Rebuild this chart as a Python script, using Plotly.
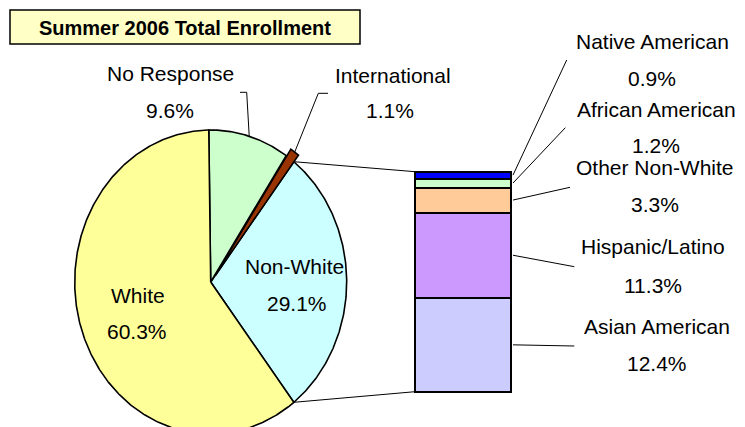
import numpy as np
import plotly.graph_objects as go

# ---------------- data ----------------
pie_labels = ["Non-White", "International", "No Response", "White"]
pie_values = [29.1, 1.1, 9.6, 60.3]
pie_colors = ["#CCFFFF", "#993300", "#CCFFCC", "#FFFF99"]

bar_labels = ["Asian American", "Hispanic/Latino", "Other Non-White",
              "African American", "Native American"]
bar_values = [12.4, 11.3, 3.3, 1.2, 0.9]
bar_colors = ["#CCCCFF", "#CC99FF", "#FFCC99", "#CCFFCC", "#0000FF"]

title_text = "Summer 2006 Total Enrollment"

# ---------------- layout constants (pixels) ----------------
W, H = 745, 427
CX, CY, RX, RY = 210.7, 282.0, 136.0, 152.0
EXPLODE = {"International": 8.0}
BAR_X0, BAR_X1, BAR_TOP, BAR_BOT = 415.0, 511.0, 171.7, 391.7
FONT = "Liberation Sans, Arial, sans-serif"
FS = 21

fig = go.Figure()

total = sum(pie_values)
half = pie_values[0] / total * 180.0
start = -half
slice_geom = {}
for lab, val, col in zip(pie_labels, pie_values, pie_colors):
    span = val / total * 360.0
    a0, a1 = start, start + span
    mid = np.radians((a0 + a1) / 2)
    off = EXPLODE.get(lab, 0.0)
    ox, oy = off * np.cos(mid), -off * np.sin(mid)
    t = np.radians(np.linspace(a0, a1, max(4, int(span * 2))))
    xs = np.concatenate([[CX], CX + RX * np.cos(t), [CX]]) + ox
    ys = np.concatenate([[CY], CY - RY * np.sin(t), [CY]]) + oy
    fig.add_trace(go.Scatter(x=xs, y=ys, mode="lines", fill="toself",
                             fillcolor=col, line=dict(color="black", width=1.6),
                             hoverinfo="skip", showlegend=False,
                             xaxis="x", yaxis="y"))
    slice_geom[lab] = dict(a0=a0, a1=a1, mid=mid, ox=ox, oy=oy)
    start = a1

# ---------------- stacked bar ----------------
bar_total = sum(bar_values)
for lab, val, col in zip(bar_labels, bar_values, bar_colors):
    fig.add_trace(go.Bar(x=[0], y=[val], width=[1.0], marker=dict(
        color=col, line=dict(color="black", width=2)),
        hoverinfo="skip", showlegend=False, xaxis="x2", yaxis="y2"))

padx = 0.1
bw = BAR_X1 - BAR_X0
x2_dom = [(BAR_X0 - bw * padx) / W, (BAR_X1 + bw * padx) / W]
bh = BAR_BOT - BAR_TOP
pady = 0.05
y2_dom = [(H - (BAR_BOT + bh * pady)) / H, (H - (BAR_TOP - bh * pady)) / H]

shapes = []
annotations = []

def line(x0, y0, x1, y1, w=1.0):
    shapes.append(dict(type="line", xref="x", yref="y", x0=x0, y0=y0,
                       x1=x1, y1=y1, line=dict(color="black", width=w)))

def text(x, y, s, size=FS, bold=False):
    annotations.append(dict(x=x, y=y, xref="x", yref="y", text=(f"<b>{s}</b>" if bold else s),
                            showarrow=False, xanchor="center", yanchor="middle",
                            font=dict(family=FONT, size=size, color="black")))

# connectors pie -> bar
nw = slice_geom["Non-White"]
ta, ba = np.radians(nw["a1"]), np.radians(nw["a0"])
line(CX + RX * np.cos(ta), CY - RY * np.sin(ta), BAR_X0, BAR_TOP)
line(CX + RX * np.cos(ba), CY - RY * np.sin(ba), BAR_X0, BAR_BOT)

label_pos = {
    "Native American": ((566.7, 60.0), (652, 41.7), (652, 78.0)),
    "African American": ((565.3, 127.7), (656, 109.0), (656, 145.0)),
    "Other Non-White": ((570.0, 187.3), (655, 167.7), (655, 204.0)),
    "Hispanic/Latino": ((574.3, 266.7), (653, 246.7), (653, 285.0)),
    "Asian American": ((574.3, 346.0), (657, 326.7), (657, 363.3)),
}
cum = 0.0
for lab, val in zip(bar_labels, bar_values):
    midv = cum + val / 2
    cum += val
    ypix = BAR_BOT - midv / bar_total * bh
    (ex, ey), (nx, ny), (px, py) = label_pos[lab]
    line(BAR_X1 + 2, ypix, ex, ey)
    text(nx, ny, lab)
    text(px, py, f"{val:.1f}%")

def arc_pt(lab):
    g = slice_geom[lab]
    return CX + RX * np.cos(g["mid"]) + g["ox"], CY - RY * np.sin(g["mid"]) + g["oy"]

nrx, nry = arc_pt("No Response")
line(240, 92.3, 246.7, 92.3)
line(246.7, 92.3, nrx, nry)
irx, iry = arc_pt("International")
line(328, 93.3, 318.3, 93.3)
line(318.3, 93.3, irx, iry)

pv = dict(zip(pie_labels, pie_values))
text(170.5, 73.3, "No Response"); text(170, 110, f"{pv['No Response']:.1f}%")
text(392.5, 75, "International"); text(390, 110, f"{pv['International']:.1f}%")
text(294.5, 266.7, "Non-White"); text(296.7, 303.3, f"{pv['Non-White']:.1f}%")
text(137.5, 295, "White"); text(137, 331.7, f"{pv['White']:.1f}%")

# title box
shapes.append(dict(type="rect", xref="x", yref="y", x0=10, y0=10, x1=360, y1=44,
                   fillcolor="#FFFFC6", line=dict(color="black", width=1.5), layer="below"))
text(185, 27.5, title_text, size=20, bold=True)

hidden = dict(visible=False, showgrid=False, zeroline=False, fixedrange=True)
fig.update_layout(
    width=W, height=H, autosize=False,
    margin=dict(l=0, r=0, t=0, b=0, pad=0),
    paper_bgcolor="white", plot_bgcolor="rgba(0,0,0,0)",
    barmode="stack", bargap=0,
    xaxis=dict(range=[0, W], domain=[0, 1], **hidden),
    yaxis=dict(range=[H, 0], domain=[0, 1], **hidden),
    xaxis2=dict(range=[-0.5 - padx, 0.5 + padx], domain=x2_dom, anchor="y2", **hidden),
    yaxis2=dict(range=[-bar_total * pady, bar_total * (1 + pady)], domain=y2_dom, anchor="x2", **hidden),
    shapes=shapes, annotations=annotations,
    showlegend=False,
)
fig.write_html("out.html", config={"displayModeBar": False},
               post_script="document.body.style.margin='0px';document.body.style.overflow='hidden';")
